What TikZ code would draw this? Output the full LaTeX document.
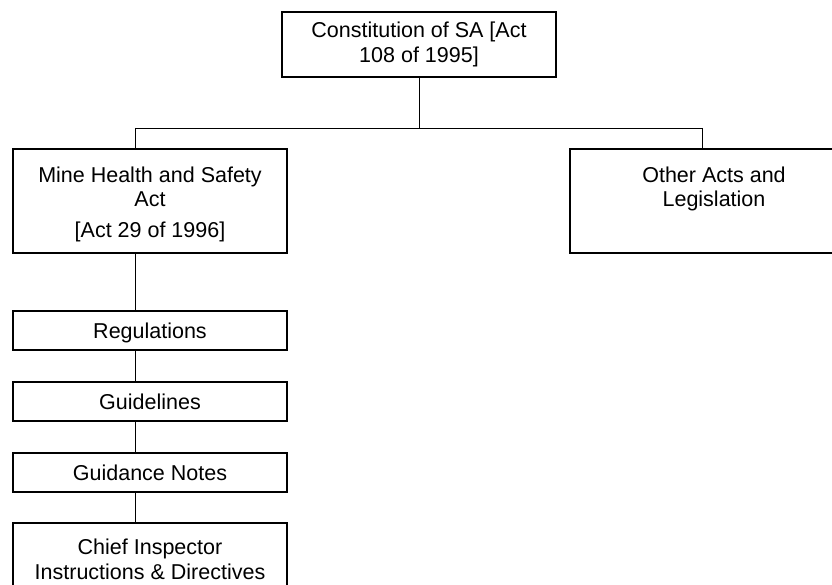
\documentclass[tikz,border=0pt]{standalone}
\usepackage{fontspec}
\setmainfont{Liberation Sans}
\begin{document}
\begin{tikzpicture}[x=1pt,y=-1pt,
	box/.style={draw, line width=1.2pt, minimum width=274pt, align=center, inner sep=0pt,
		font=\fontsize{21.5}{24.5}\selectfont},
	onebox/.style={box, minimum height=39pt, text height=15pt, text depth=0pt},
	link/.style={line width=0.8pt}]
	\useasboundingbox (0,0) rectangle (832,585);
	\clip (0,0) rectangle (832,585);
	\coordinate (busL) at (135,128);
	\coordinate (busR) at (702,128);
	\node[box, minimum height=65pt] (const) at (419,44.5) {Constitution of SA [Act\\108 of 1995]};
	\node[box, minimum height=104pt] (mhsa) at (150,201) {\rule{0pt}{22pt}Mine Health and Safety\\Act\\[6pt]{[Act 29 of 1996]}};
	\node[box, minimum width=288pt, minimum height=104pt] (other) at (714,201) {\rule{0pt}{24.4pt}Other Acts and\\Legislation\\[6pt]\strut};
	\node[onebox] (regs) at (150,330.5) {Regulations};
	\node[onebox] (guide) at (150,401.5) {Guidelines};
	\node[onebox] (notes) at (150,472.5) {Guidance Notes};
	\node[box, minimum height=73pt] (chief) at (150,559.5) {Chief Inspector\\Instructions \& Directives};
	\draw[link] (const.south) -- (const.south |- busL);
	\draw[link] (busL) -- (busR);
	\draw[link] (busL) -- (busL |- mhsa.north);
	\draw[link] (busR) -- (busR |- other.north);
	\draw[link] (busL |- mhsa.south) -- (busL |- regs.north);
	\draw[link] (busL |- regs.south) -- (busL |- guide.north);
	\draw[link] (busL |- guide.south) -- (busL |- notes.north);
	\draw[link] (busL |- notes.south) -- (busL |- chief.north);
\end{tikzpicture}
\end{document}
